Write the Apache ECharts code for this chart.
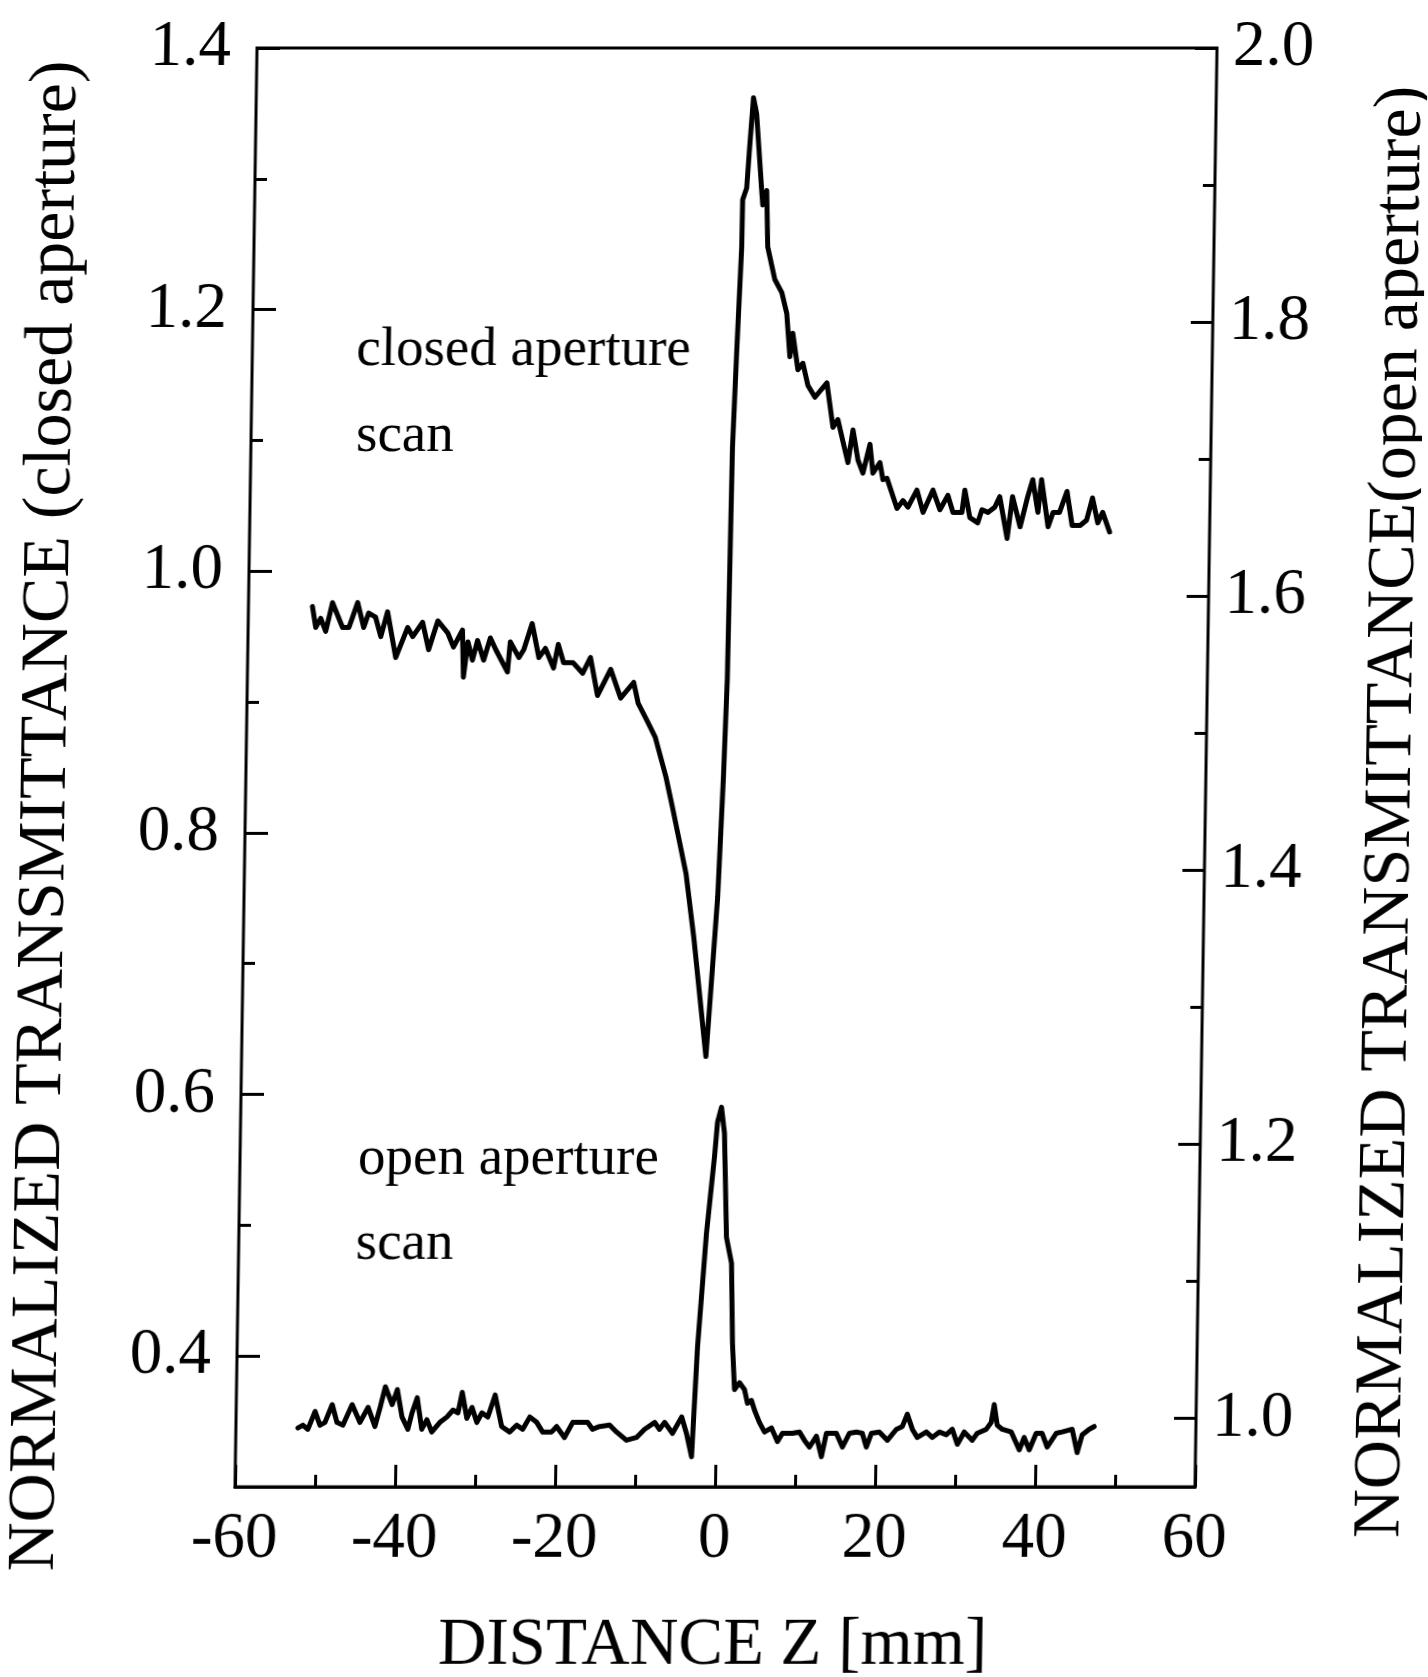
<!DOCTYPE html>
<html><head><meta charset="utf-8">
<script src="https://cdn.jsdelivr.net/npm/echarts@6/dist/echarts.min.js"></script>
<style>
html,body{margin:0;padding:0;background:#fff;overflow:hidden}
#c{position:absolute;left:0;top:0;width:1428px;height:1677px;transform:skewX(-0.876deg);transform-origin:0 48px;}
</style></head><body><div id="c"></div>
<script>
// Closed aperture scan (left axis)
const closedZ = [-52.0,-51.55,-50.94,-50.3,-49.5,-48.2,-47.4,-46.35,-45.55,-44.96,-44.1,-43.4,-42.6,-41.5,-40.06,-39.4,-38.2,-37.4,-36.3,-35.05,-34.3,-33.2,-33.0,-32.5,-31.9,-31.3,-30.5,-29.7,-29.0,-27.5,-27.2,-26.1,-25.5,-24.5,-23.6,-22.8,-21.75,-21.2,-20.5,-19.3,-18.1,-17.15,-16.2,-14.6,-13.3,-11.7,-11.1,-9.9,-8.9,-7.5,-6.6,-4.8,-3.7,-1.96,-0.79,-0.3,0.0,0.2,0.56,0.97,1.0,1.48,1.77,2.16,2.58,3.36,3.52,3.99,4.22,5.17,6.07,6.73,7.2,7.52,8.23,8.84,9.51,10.41,11.88,12.72,13.32,14.0,14.66,15.23,15.91,16.55,17.38,17.8,18.66,19.07,19.57,20.88,21.61,22.25,23.34,24.14,25.34,26.25,27.22,27.88,29.0,29.33,30.0,31.0,31.5,32.25,33.1,33.7,34.7,35.3,36.3,37.2,37.8,38.5,38.9,39.8,40.4,41.2,42.1,42.8,43.8,44.6,45.3,46.0,46.6,47.5];
const closedT = [0.973,0.957,0.964,0.954,0.976,0.957,0.957,0.976,0.957,0.968,0.965,0.950,0.969,0.934,0.957,0.950,0.961,0.940,0.962,0.953,0.942,0.955,0.919,0.946,0.932,0.947,0.932,0.949,0.940,0.923,0.946,0.934,0.940,0.960,0.934,0.941,0.926,0.944,0.930,0.930,0.922,0.934,0.905,0.925,0.903,0.915,0.899,0.885,0.873,0.843,0.819,0.769,0.720,0.629,0.751,0.843,0.919,1.095,1.171,1.248,1.284,1.293,1.324,1.362,1.350,1.291,1.280,1.291,1.248,1.223,1.213,1.197,1.164,1.182,1.154,1.159,1.142,1.133,1.144,1.110,1.116,1.099,1.083,1.108,1.085,1.075,1.097,1.075,1.083,1.070,1.071,1.048,1.054,1.049,1.062,1.045,1.062,1.047,1.058,1.045,1.045,1.062,1.041,1.037,1.047,1.045,1.049,1.057,1.025,1.057,1.034,1.057,1.070,1.045,1.070,1.034,1.045,1.045,1.061,1.035,1.035,1.039,1.056,1.037,1.045,1.030];

// Open aperture scan (right axis)
const openZ = [-52.25,-51.63,-51.0,-50.13,-49.5,-48.88,-48.0,-47.38,-46.63,-45.51,-44.51,-43.51,-42.63,-42.01,-41.39,-40.51,-39.89,-39.26,-38.51,-38.01,-37.39,-36.77,-36.14,-35.52,-34.52,-33.64,-32.89,-32.27,-31.77,-31.15,-30.52,-29.9,-29.27,-28.52,-27.65,-26.78,-25.78,-24.9,-24.15,-23.28,-22.4,-21.66,-20.53,-19.91,-18.91,-17.91,-16.66,-16.04,-15.41,-14.54,-13.29,-12.41,-11.17,-9.92,-8.92,-7.67,-7.05,-6.42,-5.42,-4.3,-3.67,-2.99,-2.45,-1.55,-0.69,-0.38,0.09,0.51,0.96,1.64,1.91,2.25,2.86,3.5,3.9,4.39,4.79,5.43,6.08,6.94,7.72,8.32,9.57,10.45,11.09,11.73,12.58,13.24,13.82,15.07,15.85,16.69,17.57,18.31,18.84,19.44,20.44,21.46,22.56,23.3,23.9,24.56,25.19,26.31,27.07,27.93,28.81,29.55,30.21,31.05,32.07,32.67,33.8,34.4,34.75,35.16,35.8,36.92,37.96,38.55,39.21,40.04,40.79,41.45,42.54,43.29,44.54,45.2,45.8,46.66,47.28];
const openT = [0.993,0.995,0.992,1.005,0.995,0.997,1.010,0.997,0.995,1.010,0.997,1.008,0.994,1.008,1.023,1.010,1.021,1.001,0.992,1.004,1.015,0.992,0.999,0.990,0.997,1.001,1.006,1.004,1.019,1.000,1.008,0.997,1.004,1.001,1.017,0.994,0.990,0.995,0.992,1.001,0.997,0.990,0.990,0.994,0.986,0.997,0.997,0.997,0.992,0.994,0.995,0.990,0.984,0.986,0.992,0.997,0.992,0.997,0.989,1.001,0.989,0.972,1.052,1.135,1.191,1.216,1.227,1.208,1.132,1.113,1.055,1.021,1.026,1.021,1.011,1.013,1.006,0.997,0.990,0.993,0.983,0.989,0.989,0.990,0.984,0.979,0.987,0.972,0.989,0.989,0.979,0.989,0.990,0.989,0.979,0.989,0.990,0.984,0.992,0.994,1.003,0.992,0.986,0.990,0.986,0.990,0.988,0.992,0.981,0.990,0.984,0.989,0.992,0.997,1.010,0.995,0.992,0.990,0.977,0.986,0.977,0.989,0.989,0.979,0.989,0.990,0.992,0.975,0.988,0.992,0.994];

// Tick values
const leftMajor = [0.4,0.6,0.8,1.0,1.2,1.4];
const leftMinor = [0.5,0.7,0.9,1.1,1.3];
const rightMajor = [1.0,1.2,1.4,1.6,1.8,2.0];
const rightMinor = [1.1,1.3,1.5,1.7,1.9];

// Text
const xTitle = 'DISTANCE Z [mm]';
const leftTitle = 'NORMALIZED TRANSMITTANCE (closed aperture)';
const rightTitle = 'NORMALIZED TRANSMITTANCE(open aperture)';
const notes = [['closed aperture', 361, 351], ['scan', 362, 437], ['open aperture', 375, 1160], ['scan', 374, 1245]];

const FONT = '"Liberation Serif", "Times New Roman", serif';
const chart = echarts.init(document.getElementById('c'), null, {renderer: 'canvas'});

function yAx(min, max, pos, vals, len, labels, margin) {
  return {
    type: 'value', min: min, max: max, position: pos,
    axisLine: {show: false, onZero: false},
    splitLine: {show: false},
    axisTick: {show: true, inside: true, length: len, customValues: vals, lineStyle: {color: '#000', width: 3}},
    axisLabel: labels ? {show: true, customValues: vals, margin: margin, fontFamily: FONT, fontSize: 65, color: '#000',
      formatter: v => v.toFixed(1)} : {show: false}
  };
}

chart.setOption({
  animation: false,
  backgroundColor: '#fff',
  grid: {left: 257, right: 211, top: 48, bottom: 190, show: true, borderColor: '#000', borderWidth: 3, backgroundColor: 'transparent'},
  xAxis: [{
    type: 'value', min: -60, max: 60, interval: 20, position: 'bottom',
    axisLine: {show: true, onZero: false, lineStyle: {color: '#000', width: 3}},
    splitLine: {show: false},
    axisTick: {show: true, inside: true, length: 22, lineStyle: {color: '#000', width: 3}},
    minorTick: {show: true, splitNumber: 2, length: 12, lineStyle: {color: '#000', width: 3}},
    axisLabel: {margin: 20, fontFamily: FONT, fontSize: 65, color: '#000'}
  }],
  yAxis: [
    yAx(0.3, 1.4, 'left', leftMajor, 23, true, 26),
    yAx(0.3, 1.4, 'left', leftMinor, 12, false),
    yAx(0.95, 2.0, 'right', rightMajor, 22, true, 16),
    yAx(0.95, 2.0, 'right', rightMinor, 12, false)
  ],
  series: [
    {type: 'line', xAxisIndex: 0, yAxisIndex: 0, symbol: 'none', data: closedZ.map((z, i) => [z, closedT[i]]),
     lineStyle: {color: '#000', width: 5, join: 'round', cap: 'round'}},
    {type: 'line', xAxisIndex: 0, yAxisIndex: 2, symbol: 'none', data: openZ.map((z, i) => [z, openT[i]]),
     lineStyle: {color: '#000', width: 5, join: 'round', cap: 'round'}}
  ],
  graphic: [
    {type: 'text', x: 58, y: 816, rotation: Math.PI / 2,
     style: {text: leftTitle, fontFamily: FONT, fontSize: 68, fill: '#000', align: 'center', verticalAlign: 'middle'}},
    {type: 'text', x: 1403, y: 812, rotation: Math.PI / 2,
     style: {text: rightTitle, fontFamily: FONT, fontSize: 68, fill: '#000', align: 'center', verticalAlign: 'middle'}},
    {type: 'text', x: 737, y: 1646,
     style: {text: xTitle, fontFamily: FONT, fontSize: 67, fill: '#000', align: 'center', verticalAlign: 'middle'}}
  ].concat(notes.map(n => ({type: 'text', x: n[1], y: n[2],
     style: {text: n[0], fontFamily: FONT, fontSize: 55, fill: '#000', align: 'left', verticalAlign: 'middle'}})))
});
</script>
</body></html>
